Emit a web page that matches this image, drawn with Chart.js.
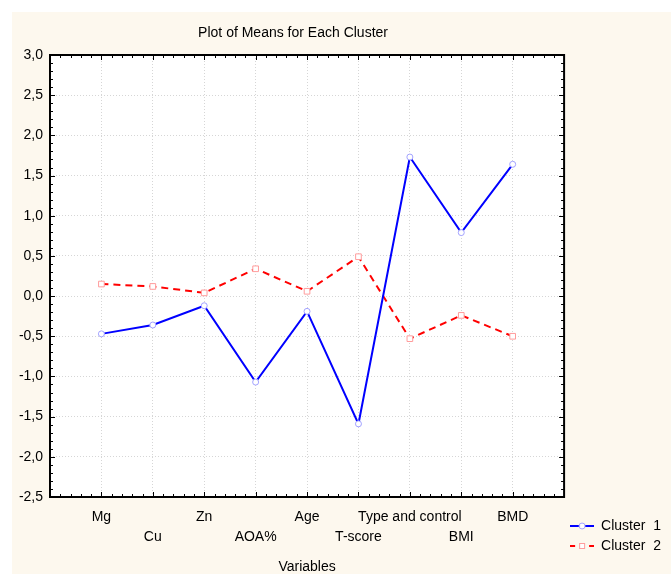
<!DOCTYPE html>
<html lang="en">
<head>
  <meta charset="utf-8">
  <title>Plot of Means for Each Cluster</title>
  <script src="https://cdn.jsdelivr.net/npm/chart.js@4.4.1/dist/chart.umd.min.js"></script>
  <style>
    html, body {
      margin: 0;
      padding: 0;
      background: #ffffff;
    }
  </style>
</head>
<body>
  <canvas id="myChart" width="671" height="574"></canvas>

  <script>
    // data
    const categories = ["Mg", "Cu", "Zn", "AOA%", "Age", "T-score", "Type and control", "BMI", "BMD"];
    const cluster1 = [-0.47, -0.36, -0.12, -1.07, -0.19, -1.59, 1.73, 0.79, 1.64];
    const cluster2 = [0.15, 0.12, 0.04, 0.34, 0.06, 0.49, -0.53, -0.24, -0.50];
    const yMin = -2.5;
    const yMax = 3.0;
    const yStep = 0.5;

    const FONT = "'Liberation Sans', Arial, sans-serif";
    const cream = "#fdf8ee";

    // little legend icons: line + marker
    function legendIcon(color, markColor, square) {
      const c = document.createElement("canvas");
      c.width = 24;
      c.height = 10;
      const g = c.getContext("2d");
      g.strokeStyle = color;
      g.lineWidth = 2;
      if (square) {
        g.beginPath(); g.moveTo(0, 5); g.lineTo(5, 5); g.stroke();
        g.beginPath(); g.moveTo(19, 5); g.lineTo(24, 5); g.stroke();
        g.fillStyle = "#fff";
        g.strokeStyle = markColor;
        g.lineWidth = 1;
        g.fillRect(9.5, 2.5, 5, 5);
        g.strokeRect(9.5, 2.5, 5, 5);
      } else {
        g.beginPath(); g.moveTo(0, 5); g.lineTo(24, 5); g.stroke();
        g.fillStyle = "#fff";
        g.strokeStyle = markColor;
        g.lineWidth = 1;
        g.beginPath(); g.arc(12, 5, 3, 0, Math.PI * 2); g.fill(); g.stroke();
      }
      return c;
    }

    const paper = {
      id: "paper",
      beforeDraw(chart) {
        const ctx = chart.ctx;
        const a = chart.chartArea;
        ctx.save();
        ctx.fillStyle = "#ffffff";
        ctx.fillRect(0, 0, chart.width, chart.height);
        ctx.fillStyle = cream;
        ctx.fillRect(12, 12, chart.width - 12, chart.height - 12);
        ctx.fillStyle = "#ffffff";
        ctx.fillRect(a.left, a.top, a.right - a.left, a.bottom - a.top);
        ctx.restore();
      }
    };

    // move title a bit left and legend up, like the original
    const nudge = {
      id: "nudge",
      afterLayout(chart) {
        chart.titleBlock.left -= 28;
        chart.legend.top -= 15;
        chart.legend.bottom -= 15;
      }
    };

    // frame with inward minor ticks on all four sides
    const frame = {
      id: "frame",
      beforeDatasetsDraw(chart) {
        const ctx = chart.ctx;
        const a = chart.chartArea;
        const xs = chart.scales.x;
        const ys = chart.scales.y;
        ctx.save();
        ctx.strokeStyle = "#000";
        ctx.lineWidth = 1;
        ctx.beginPath();
        for (let i = 0; i <= 55; i++) {
          const v = yMin + i * 0.1;
          const y = Math.round(ys.getPixelForValue(v)) + 0.5;
          const len = (i % 5 === 0) ? 5 : 3;
          ctx.moveTo(a.left, y); ctx.lineTo(a.left + len, y);
          ctx.moveTo(a.right, y); ctx.lineTo(a.right - len, y);
        }
        for (let i = 0; i <= 50; i++) {
          const v = i * 0.2;
          const x = Math.round(xs.getPixelForValue(v)) + 0.5;
          const len = (i % 5 === 0) ? 5 : 3;
          ctx.moveTo(x, a.bottom); ctx.lineTo(x, a.bottom - len);
          ctx.moveTo(x, a.top); ctx.lineTo(x, a.top + len);
        }
        ctx.stroke();
        ctx.lineWidth = 2;
        ctx.strokeRect(a.left, a.top, a.right - a.left, a.bottom - a.top);
        ctx.restore();
      }
    };

    new Chart("myChart", {
      type: "line",
      data: {
        datasets: [{
          label: "Cluster  1",
          data: cluster1.map((v, i) => ({ x: i + 1, y: v })),
          borderColor: "#0000ff",
          borderWidth: 2,
          pointStyle: "circle",
          pointRadius: 3,
          pointBorderWidth: 1,
          pointBorderColor: "#a3a3ff",
          pointBackgroundColor: "#ffffff",
          tension: 0
        }, {
          label: "Cluster  2",
          data: cluster2.map((v, i) => ({ x: i + 1, y: v })),
          borderColor: "#ff0000",
          borderWidth: 2,
          borderDash: [7, 5],
          pointStyle: "rect",
          pointRadius: 4,
          pointBorderWidth: 1,
          pointBorderColor: "#ff9c9c",
          pointBackgroundColor: "#ffffff",
          tension: 0
        }]
      },
      options: {
        responsive: false,
        animation: false,
        layout: { padding: 0 },
        scales: {
          x: {
            type: "linear",
            min: 0,
            max: categories.length + 1,
            afterBuildTicks: s => { s.ticks = categories.map((c, i) => ({ value: i + 1 })); },
            afterFit: s => { s.height = 77; },
            border: { display: false, dash: [1, 2] },
            grid: { color: "#d6d6d6", drawTicks: false },
            ticks: {
              autoSkip: false,
              maxRotation: 0,
              padding: 10,
              color: "#000",
              font: { family: FONT, size: 14, lineHeight: 20 / 14 },
              callback: v => {
                const i = Math.round(v) - 1;
                return i % 2 ? ["", categories[i]] : categories[i];
              }
            },
            title: {
              display: true,
              text: "Variables",
              color: "#000",
              font: { family: FONT, size: 14, lineHeight: 1 },
              padding: { top: 0, bottom: 0 }
            }
          },
          y: {
            min: yMin,
            max: yMax,
            afterFit: s => { s.width = 50; },
            border: { display: false, dash: [1, 2] },
            grid: { color: "#d6d6d6", drawTicks: false },
            ticks: {
              stepSize: yStep,
              padding: 7,
              color: "#000",
              font: { family: FONT, size: 14 },
              callback: v => v.toFixed(1).replace(".", ",")
            }
          }
        },
        plugins: {
          title: {
            display: true,
            text: "Plot of Means for Each Cluster",
            fullSize: false,
            color: "#000",
            font: { family: FONT, size: 14, weight: "normal" },
            padding: { top: 24.6, bottom: 13.6 }
          },
          legend: {
            position: "right",
            align: "end",
            labels: {
              color: "#000",
              font: { family: FONT, size: 14 },
              usePointStyle: true,
              pointStyleWidth: 24,
              boxHeight: 10,
              padding: 6,
              generateLabels: chart => {
                const items = Chart.defaults.plugins.legend.labels.generateLabels(chart);
                items[0].pointStyle = legendIcon("#0000ff", "#a3a3ff", false);
                items[1].pointStyle = legendIcon("#ff0000", "#ff9c9c", true);
                return items;
              }
            }
          },
          tooltip: { enabled: false }
        }
      },
      plugins: [paper, nudge, frame]
    });
  </script>
</body>
</html>
